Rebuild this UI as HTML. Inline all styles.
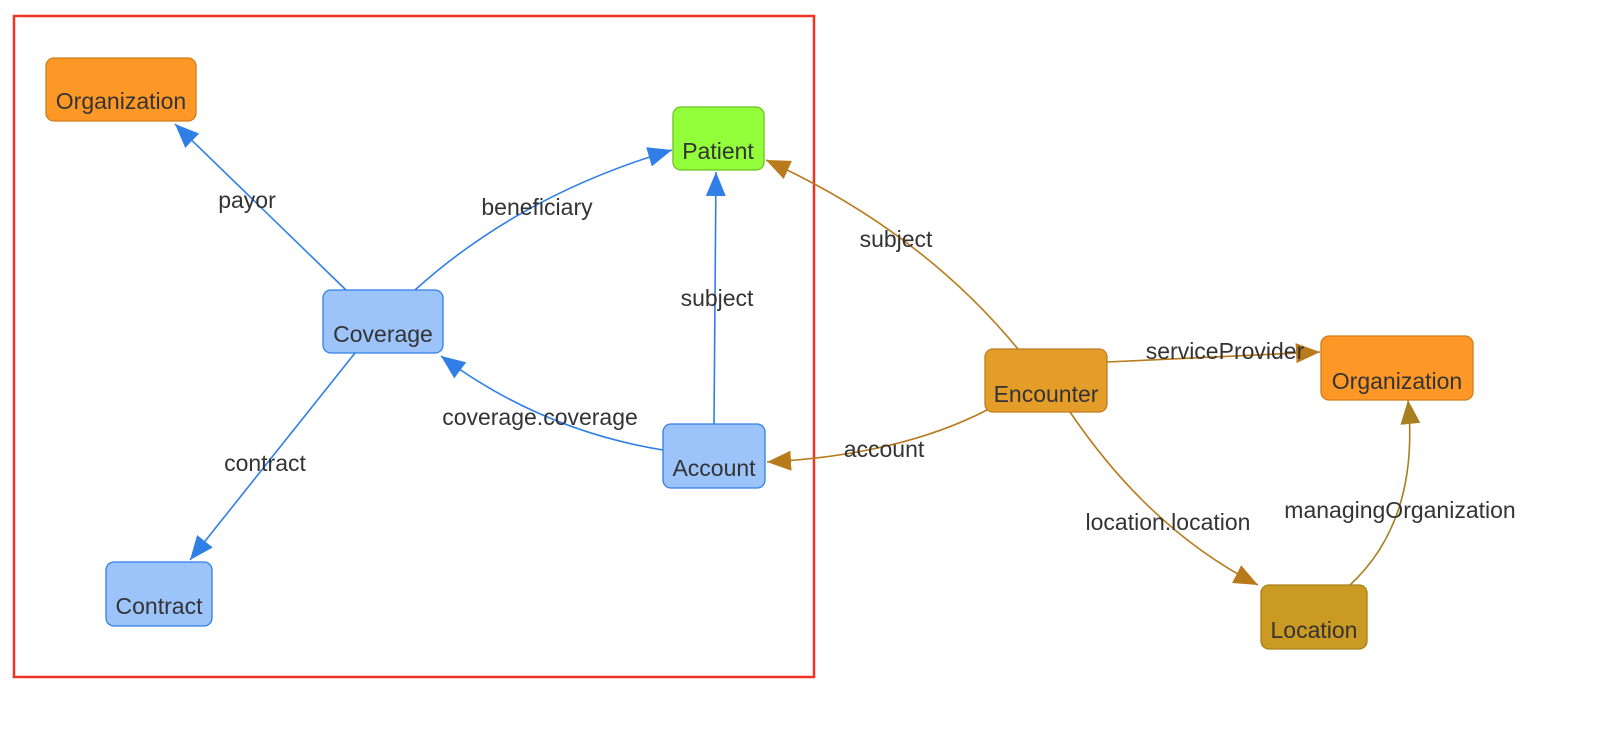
<!DOCTYPE html>
<html><head><meta charset="utf-8"><style>
html,body{margin:0;padding:0;background:#fff;}
svg{display:block;font-family:"Liberation Sans",Arial,sans-serif;}
.t{font-size:23px;fill:#333;text-anchor:middle;}
.l{font-size:23px;fill:#333;text-anchor:middle;}
</style></head><body>
<svg width="1610" height="742" viewBox="0 0 1610 742" xmlns="http://www.w3.org/2000/svg">
<defs>
<marker id="ab" markerUnits="userSpaceOnUse" markerWidth="26" markerHeight="20" refX="24" refY="10" orient="auto"><path d="M0,0 L24,10 L0,20 Z" fill="#2f7fe6"/></marker>
<marker id="ao" markerUnits="userSpaceOnUse" markerWidth="26" markerHeight="20" refX="24" refY="10" orient="auto"><path d="M0,0 L24,10 L0,20 Z" fill="#b97a1c"/></marker>
<marker id="ag" markerUnits="userSpaceOnUse" markerWidth="26" markerHeight="20" refX="24" refY="10" orient="auto"><path d="M0,0 L24,10 L0,20 Z" fill="#a88020"/></marker>
</defs>
<rect x="14" y="16" width="800" height="661" fill="none" stroke="#f03325" stroke-width="2.5"/>
<g fill="none" stroke-width="1.6">
<path d="M346,290 L175,124" stroke="#2f7fe6" marker-end="url(#ab)"/>
<path d="M415,290 Q520,195 672,150" stroke="#2f7fe6" marker-end="url(#ab)"/>
<path d="M714,424 L716,172" stroke="#2f7fe6" marker-end="url(#ab)"/>
<path d="M663,450 Q540,430 441,356" stroke="#2f7fe6" marker-end="url(#ab)"/>
<path d="M355,353 L190,560" stroke="#2f7fe6" marker-end="url(#ab)"/>
<path d="M1018,349 Q920,230 766,160" stroke="#b97a1c" marker-end="url(#ao)"/>
<path d="M987,410 Q900,455 767,462" stroke="#b97a1c" marker-end="url(#ao)"/>
<path d="M1107,362 L1320,352" stroke="#b97a1c" marker-end="url(#ao)"/>
<path d="M1070,412 Q1150,530 1258,585" stroke="#b97a1c" marker-end="url(#ao)"/>
<path d="M1350,585 Q1420,520 1408,400" stroke="#a88020" marker-end="url(#ag)"/>
</g>
<text class="l" x="247" y="208">payor</text>
<text class="l" x="537" y="215">beneficiary</text>
<text class="l" x="717" y="306">subject</text>
<text class="l" x="540" y="425">coverage.coverage</text>
<text class="l" x="265" y="471">contract</text>
<text class="l" x="896" y="247">subject</text>
<text class="l" x="884" y="457">account</text>
<text class="l" x="1225" y="359">serviceProvider</text>
<text class="l" x="1168" y="530">location.location</text>
<text class="l" x="1400" y="518">managingOrganization</text>
<rect x="46" y="58" width="150" height="63" rx="8" fill="#fd9826" stroke="#d07d1a" stroke-width="1.3"/>
<text class="t" x="121" y="109">Organization</text>
<rect x="673" y="107" width="91" height="63" rx="8" fill="#93ff3a" stroke="#6cc024" stroke-width="1.3"/>
<text class="t" x="718" y="159">Patient</text>
<rect x="323" y="290" width="120" height="63" rx="8" fill="#9cc4fb" stroke="#2f7fe6" stroke-width="1.3"/>
<text class="t" x="383" y="342">Coverage</text>
<rect x="663" y="424" width="102" height="64" rx="8" fill="#9cc4fb" stroke="#2f7fe6" stroke-width="1.3"/>
<text class="t" x="714" y="476">Account</text>
<rect x="106" y="562" width="106" height="64" rx="8" fill="#9cc4fb" stroke="#2f7fe6" stroke-width="1.3"/>
<text class="t" x="159" y="614">Contract</text>
<rect x="985" y="349" width="122" height="63" rx="8" fill="#e59d2a" stroke="#c07c1c" stroke-width="1.3"/>
<text class="t" x="1046" y="402">Encounter</text>
<rect x="1321" y="336" width="152" height="64" rx="8" fill="#fd9826" stroke="#d07d1a" stroke-width="1.3"/>
<text class="t" x="1397" y="389">Organization</text>
<rect x="1261" y="585" width="106" height="64" rx="8" fill="#cb9a22" stroke="#a88018" stroke-width="1.3"/>
<text class="t" x="1314" y="638">Location</text>
</svg>
</body></html>
